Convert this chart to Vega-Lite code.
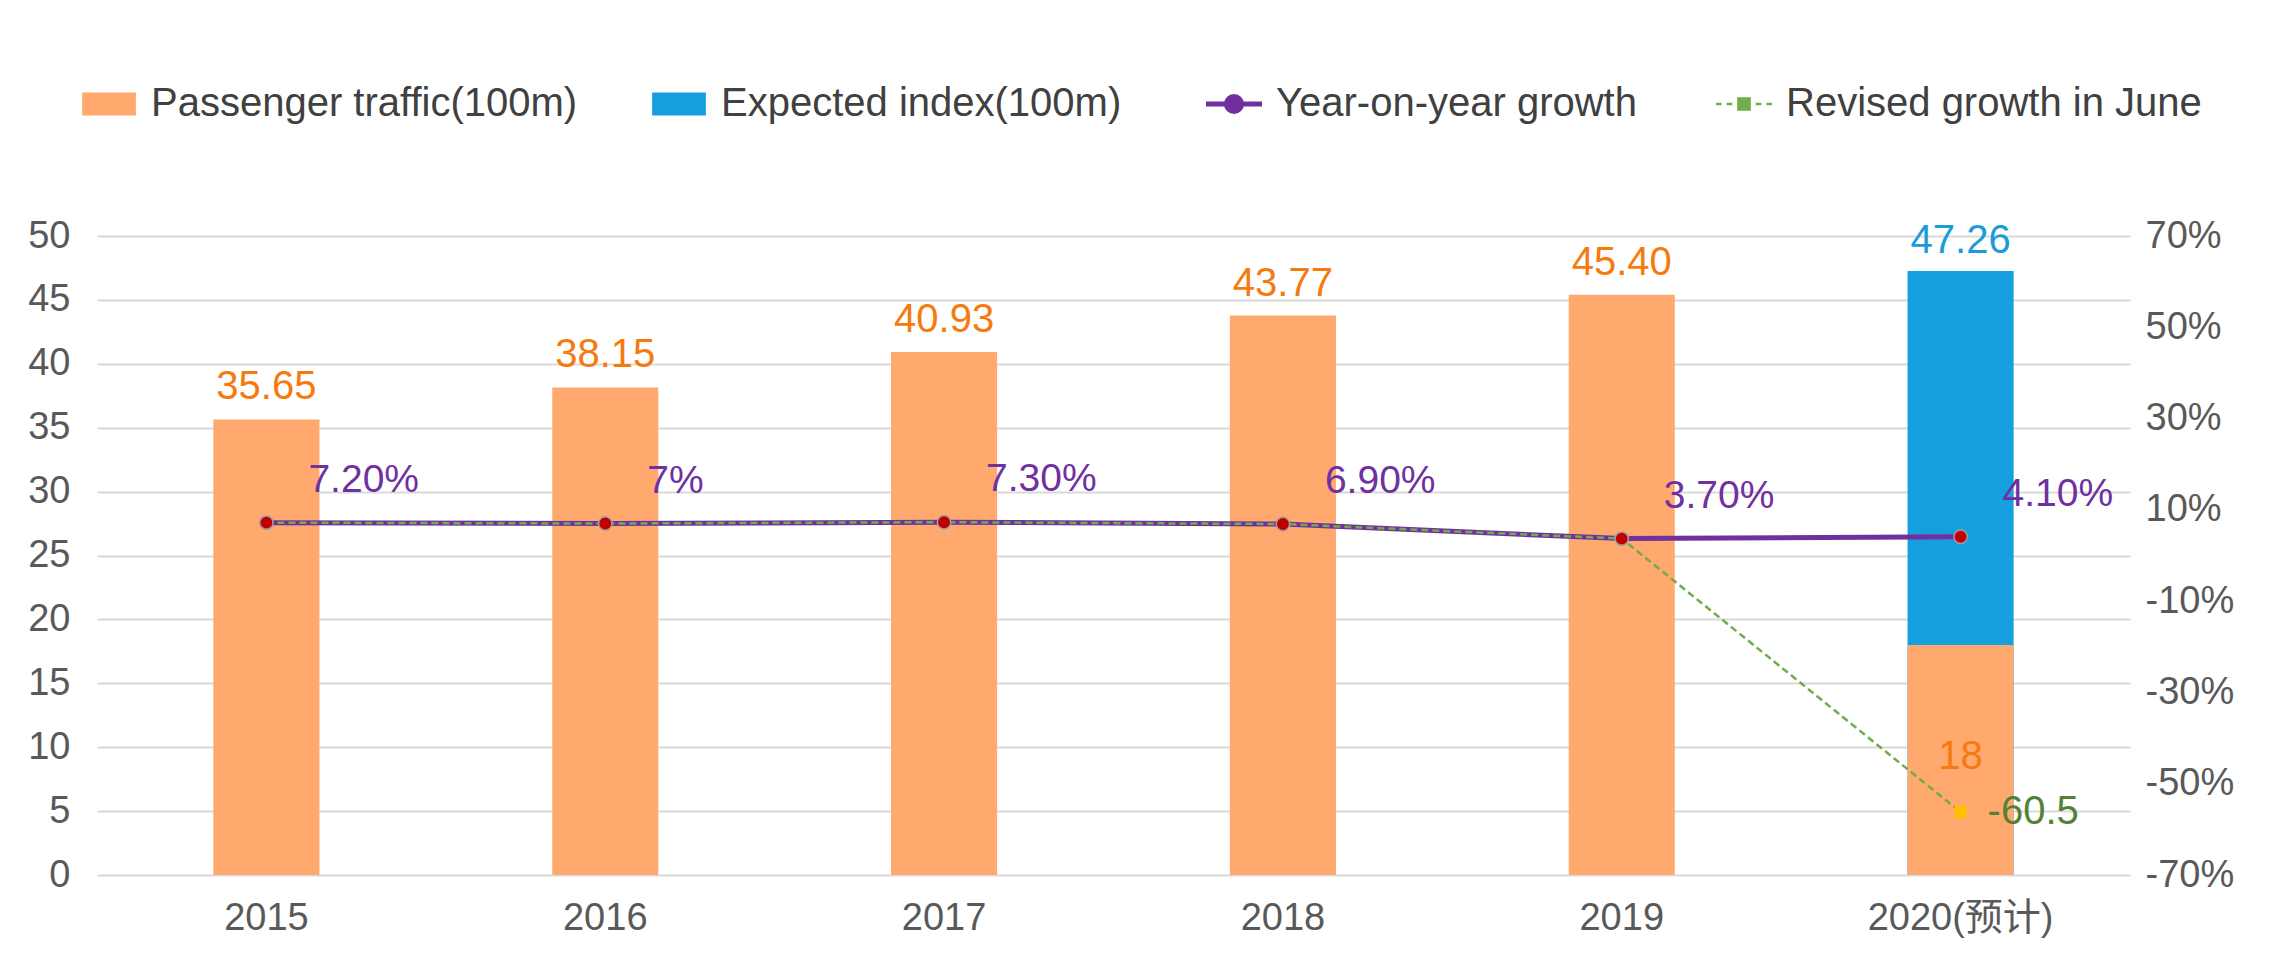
{
  "$schema": "https://vega.github.io/schema/vega-lite/v6.json",
  "width": 2033,
  "height": 639,
  "autosize": {"type": "none"},
  "padding": {"left": 97, "top": 236, "right": 152, "bottom": 85},
  "background": "white",
  "config": {
    "view": {"stroke": null},
    "font": "Liberation Sans",
    "axis": {
      "labelFont": "Liberation Sans, Noto Sans CJK SC",
      "labelFontSize": 38,
      "labelColor": "#595959",
      "labelLimit": 1000,
      "ticks": false,
      "domain": false,
      "title": null
    }
  },
  "datasets": {
    "bars": [
      {"year": "2015", "series": "Passenger traffic(100m)", "value": 35.65, "label": "35.65"},
      {"year": "2016", "series": "Passenger traffic(100m)", "value": 38.15, "label": "38.15"},
      {"year": "2017", "series": "Passenger traffic(100m)", "value": 40.93, "label": "40.93"},
      {"year": "2018", "series": "Passenger traffic(100m)", "value": 43.77, "label": "43.77"},
      {"year": "2019", "series": "Passenger traffic(100m)", "value": 45.40, "label": "45.40"},
      {"year": "2020(预计)", "series": "Expected index(100m)", "value": 47.26, "label": "47.26"},
      {"year": "2020(预计)", "series": "Passenger traffic(100m)", "value": 18, "label": "18"}
    ],
    "lines": [
      {"year": "2015", "series": "Year-on-year growth", "value": 7.2, "label": "7.20%"},
      {"year": "2016", "series": "Year-on-year growth", "value": 7.0, "label": "7%"},
      {"year": "2017", "series": "Year-on-year growth", "value": 7.3, "label": "7.30%"},
      {"year": "2018", "series": "Year-on-year growth", "value": 6.9, "label": "6.90%"},
      {"year": "2019", "series": "Year-on-year growth", "value": 3.7, "label": "3.70%"},
      {"year": "2020(预计)", "series": "Year-on-year growth", "value": 4.1, "label": "4.10%"},
      {"year": "2015", "series": "Revised growth in June", "value": 7.2, "label": ""},
      {"year": "2016", "series": "Revised growth in June", "value": 7.0, "label": ""},
      {"year": "2017", "series": "Revised growth in June", "value": 7.3, "label": ""},
      {"year": "2018", "series": "Revised growth in June", "value": 6.9, "label": ""},
      {"year": "2019", "series": "Revised growth in June", "value": 3.7, "label": ""},
      {"year": "2020(预计)", "series": "Revised growth in June", "value": -56.2, "label": "-60.5"}
    ]
  },
  "encoding": {
    "x": {
      "field": "year",
      "type": "nominal",
      "sort": null,
      "scale": {
        "domain": ["2015", "2016", "2017", "2018", "2019", "2020(预计)"],
        "paddingInner": 0.687,
        "paddingOuter": 0.3435
      },
      "axis": {"labelPadding": 24, "labelAngle": 0, "grid": false, "labelLimit": 1000}
    }
  },
  "layer": [
    {
      "data": {"name": "bars"},
      "encoding": {
        "y": {
          "field": "value",
          "type": "quantitative",
          "stack": null,
          "scale": {"domain": [0, 50], "nice": false},
          "axis": {
            "values": [0, 5, 10, 15, 20, 25, 30, 35, 40, 45, 50],
            "grid": true,
            "gridColor": "#D9D9D9",
            "gridWidth": 2,
            "labelPadding": 27
          }
        }
      },
      "layer": [
        {
          "mark": {"type": "bar"},
          "encoding": {
            "color": {
              "field": "series",
              "type": "nominal",
              "scale": {
                "domain": ["Passenger traffic(100m)", "Expected index(100m)", "Year-on-year growth", "Revised growth in June"],
                "range": ["#FFA96E", "#169FDF", "#7030A0", "#70AD47"]
              },
              "legend": {
                "orient": "none",
                "legendX": -8,
                "legendY": -152,
                "direction": "horizontal",
                "columns": 4,
                "columnPadding": 74,
                "padding": 0,
                "title": null,
                "symbolSize": 3136,
                "labelFont": "Liberation Sans",
                "labelFontSize": 40,
                "labelColor": "#404040",
                "labelLimit": 2000,
                "labelOffset": 22,
                "encode": {
                  "symbols": {
                    "update": {
                      "shape": {"signal": "(datum.value === 'Passenger traffic(100m)' || datum.value === 'Expected index(100m)') ? 'M-0.96,-0.41H0.96V0.41H-0.96Z' : (datum.value === 'Year-on-year growth' ? 'M-1,0H-0.27M0.27,0H1M0.27,0A0.27,0.27 0 1,1 -0.27,0A0.27,0.27 0 1,1 0.27,0Z' : 'M-1,0H-0.8M-0.62,0H-0.42M0.42,0H0.62M0.8,0H1M-0.2,-0.2H0.2V0.2H-0.2Z')"},
                      "fill": {"signal": "datum.value === 'Passenger traffic(100m)' ? '#FFA96E' : (datum.value === 'Expected index(100m)' ? '#169FDF' : (datum.value === 'Year-on-year growth' ? '#C00000' : '#FFC000'))"},
                      "stroke": {"signal": "datum.value === 'Year-on-year growth' ? '#7030A0' : (datum.value === 'Revised growth in June' ? '#70AD47' : 'transparent')"},
                      "strokeWidth": {"signal": "datum.value === 'Year-on-year growth' ? 5 : (datum.value === 'Revised growth in June' ? 2.5 : 0)"},
                      "strokeDash": {"value": []},
                      "size": {"value": 3136},
                      "opacity": {"value": 1},
                      "fillOpacity": {"value": 1},
                      "strokeOpacity": {"value": 1}
                    }
                  }
                }
              }
            }
          }
        },
        {
          "transform": [{"filter": "datum.series === 'Passenger traffic(100m)' && datum.year !== '2020(预计)'"}],
          "mark": {"type": "text", "fontSize": 40, "color": "#F57A10", "baseline": "middle", "dy": -32, "font": "Liberation Sans"},
          "encoding": {"text": {"field": "label"}}
        },
        {
          "transform": [{"filter": "datum.series === 'Expected index(100m)'"}],
          "mark": {"type": "text", "fontSize": 40, "color": "#1B9BD8", "baseline": "middle", "dy": -30, "font": "Liberation Sans"},
          "encoding": {"text": {"field": "label"}}
        },
        {
          "transform": [{"filter": "datum.series === 'Passenger traffic(100m)' && datum.year === '2020(预计)'"}],
          "mark": {"type": "text", "fontSize": 40, "color": "#F57A10", "baseline": "middle", "dy": 112, "font": "Liberation Sans"},
          "encoding": {"text": {"field": "label"}}
        }
      ]
    },
    {
      "data": {"name": "lines"},
      "encoding": {
        "y": {
          "field": "value",
          "type": "quantitative",
          "scale": {"domain": [-70, 70], "nice": false},
          "axis": {
            "orient": "right",
            "values": [-70, -50, -30, -10, 10, 30, 50, 70],
            "labelExpr": "datum.value + '%'",
            "grid": false,
            "labelPadding": 15
          }
        }
      },
      "layer": [
        {
          "transform": [{"filter": "datum.series === 'Year-on-year growth'"}],
          "mark": {"type": "line", "strokeWidth": 5},
          "encoding": {"color": {"field": "series", "type": "nominal"}}
        },
        {
          "transform": [{"filter": "datum.series === 'Revised growth in June'"}],
          "mark": {"type": "line", "strokeWidth": 2.5, "strokeDash": [7, 4]},
          "encoding": {"color": {"field": "series", "type": "nominal"}}
        },
        {
          "transform": [{"filter": "datum.series === 'Year-on-year growth'"}],
          "mark": {"type": "circle", "size": 180, "fill": "#C00000", "stroke": "#A0A0A0", "strokeWidth": 1.5, "opacity": 1},
          "encoding": {}
        },
        {
          "transform": [{"filter": "datum.series === 'Revised growth in June' && datum.label !== ''"}],
          "mark": {"type": "square", "size": 150, "fill": "#FFC000", "opacity": 1},
          "encoding": {}
        },
        {
          "transform": [{"filter": "datum.series === 'Year-on-year growth'"}],
          "mark": {"type": "text", "fontSize": 39, "color": "#7030A0", "align": "left", "baseline": "middle", "dx": 42, "dy": -43, "font": "Liberation Sans"},
          "encoding": {"text": {"field": "label"}}
        },
        {
          "transform": [{"filter": "datum.series === 'Revised growth in June' && datum.label !== ''"}],
          "mark": {"type": "text", "fontSize": 40, "color": "#548235", "align": "left", "baseline": "middle", "dx": 27, "font": "Liberation Sans"},
          "encoding": {"text": {"field": "label"}}
        }
      ]
    }
  ],
  "resolve": {"scale": {"y": "independent"}}
}
